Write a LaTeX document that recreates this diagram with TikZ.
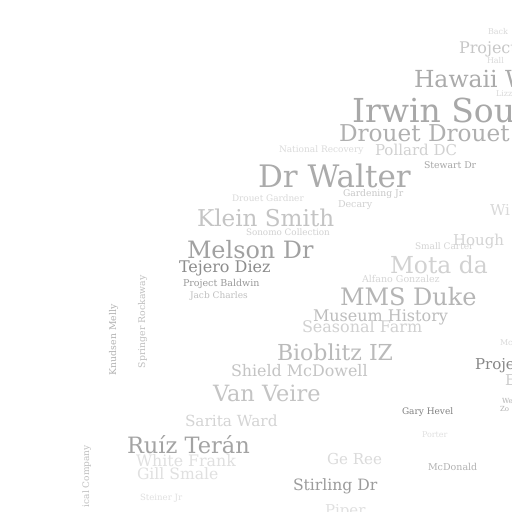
\documentclass[tikz,border=0pt]{standalone}
\usepackage{fontspec}
\setmainfont{DejaVu Serif}
\tikzset{
  wd/.style={anchor=base west,inner sep=0pt,outer sep=0pt},
  fs/.style={font=\fontsize{#1}{#1}\selectfont},
  vt/.style={rotate=90}
}
\begin{document}
\begin{tikzpicture}[x=1pt,y=-1pt]
\useasboundingbox[fill=white] (0,0) rectangle (512,512);
\clip (0,0) rectangle (512,512);
% top right
\node[wd,fs=8,text=black!15] (back) at (488,34) {Back};
\node[wd,fs=16,text=black!22] (proj1) at (459,53) {Project};
\node[wd,fs=8,text=black!15] (hall) at (487,63) {Hall};
\node[wd,fs=23.5,text=black!33] (hawaii) at (414,87) {Hawaii W};
\node[wd,fs=8,text=black!15] (lizz) at (496,96) {Lizz};
\node[wd,fs=33,text=black!34] (irwin) at (352,122) {Irwin Sou};
\node[wd,fs=23.2,text=black!31] (drouet) at (339,141) {Drouet Drouet};
\node[wd,fs=9,text=black!14] (natrec) at (279,152) {National Recovery};
\node[wd,fs=15,text=black!18] (pollard) at (375,155) {Pollard DC};
\node[wd,fs=9.3,text=black!35] (stewart) at (424,168) {Stewart Dr};
% middle
\node[wd,fs=31,text=black!33] (walter) at (258,187) {Dr Walter};
\node[wd,fs=8.9,text=black!15] (gardner) at (232,201) {Drouet Gardner};
\node[wd,fs=9.2,text=black!22] (gardening) at (343,196) {Gardening Jr};
\node[wd,fs=9.5,text=black!18] (decary) at (338,207) {Decary};
\node[wd,fs=15,text=black!15] (wi) at (490,215) {Wi};
\node[wd,fs=23.1,text=black!23] (klein) at (197,226) {Klein Smith};
\node[wd,fs=8.8,text=black!18] (sonomo) at (246,235) {Sonomo Collection};
\node[wd,fs=15,text=black!17] (hough) at (453,245) {Hough};
\node[wd,fs=9,text=black!17] (small) at (415,249) {Small Carter};
\node[wd,fs=23.9,text=black!37] (melson) at (187,258) {Melson Dr};
\node[wd,fs=23.4,text=black!18] (mota) at (390,273) {Mota da};
\node[wd,fs=16,text=black!45] (tejero) at (179,272) {Tejero Diez};
\node[wd,fs=9.5,text=black!16] (alfano) at (362,282) {Alfano Gonzalez};
\node[wd,fs=9.5,text=black!40] (baldwin) at (183,286) {Project Baldwin};
\node[wd,fs=9,text=black!25] (jacb) at (190,298) {Jacb Charles};
\node[wd,fs=24,text=black!29] (mms) at (340,305) {MMS Duke};
\node[wd,fs=16,text=black!26] (museum) at (313,321) {Museum History};
\node[wd,fs=16,text=black!18] (seasonal) at (302,332) {Seasonal Farm};
\node[wd,fs=22,text=black!27] (bioblitz) at (277,360) {Bioblitz IZ};
\node[wd,fs=15.9,text=black!23] (shield) at (231,376) {Shield McDowell};
\node[wd,fs=22.4,text=black!23] (van) at (213,401) {Van Veire};
% lower
\node[wd,fs=15.3,text=black!17] (sarita) at (185,426) {Sarita Ward};
\node[wd,fs=22.5,text=black!36] (ruiz) at (127,453) {Ruíz Terán};
\node[wd,fs=15.8,text=black!12] (white) at (136,466) {White Frank};
\node[wd,fs=15.6,text=black!12] (gill) at (137,479) {Gill Smale};
\node[wd,fs=8.6,text=black!12] (steiner) at (140,500) {Steiner Jr};
\node[wd,fs=15.1,text=black!14] (ge) at (327,464) {Ge Ree};
\node[wd,fs=15.6,text=black!39] (stirling) at (293,490) {Stirling Dr};
\node[wd,fs=15,text=black!12] (piper) at (325,515) {Piper};
\node[wd,fs=9,text=black!50] (gary) at (402,414) {Gary Hevel};
\node[wd,fs=8,text=black!12] (porter) at (422,437) {Porter};
\node[wd,fs=9.5,text=black!30] (mcdonald) at (428,470) {McDonald};
% right edge
\node[wd,fs=8,text=black!15] (mc) at (500,345) {Mc};
\node[wd,fs=15,text=black!47] (proj2) at (475,369) {Project};
\node[wd,fs=15,text=black!20] (e) at (505,385) {E};
\node[wd,fs=7,text=black!30] (we) at (502,403) {We};
\node[wd,fs=7,text=black!30] (zo) at (500,411) {Zo};
% vertical
\node[wd,vt,fs=9.3,text=black!30] (knudsen) at (116,375) {Knudsen Melly};
\node[wd,vt,fs=9.3,text=black!25] (springer) at (145,368) {Springer Rockaway};
\node[anchor=base east,inner sep=0pt,vt,fs=9,text=black!25] (company) at (89,445) {ical Company};
\end{tikzpicture}
\end{document}
